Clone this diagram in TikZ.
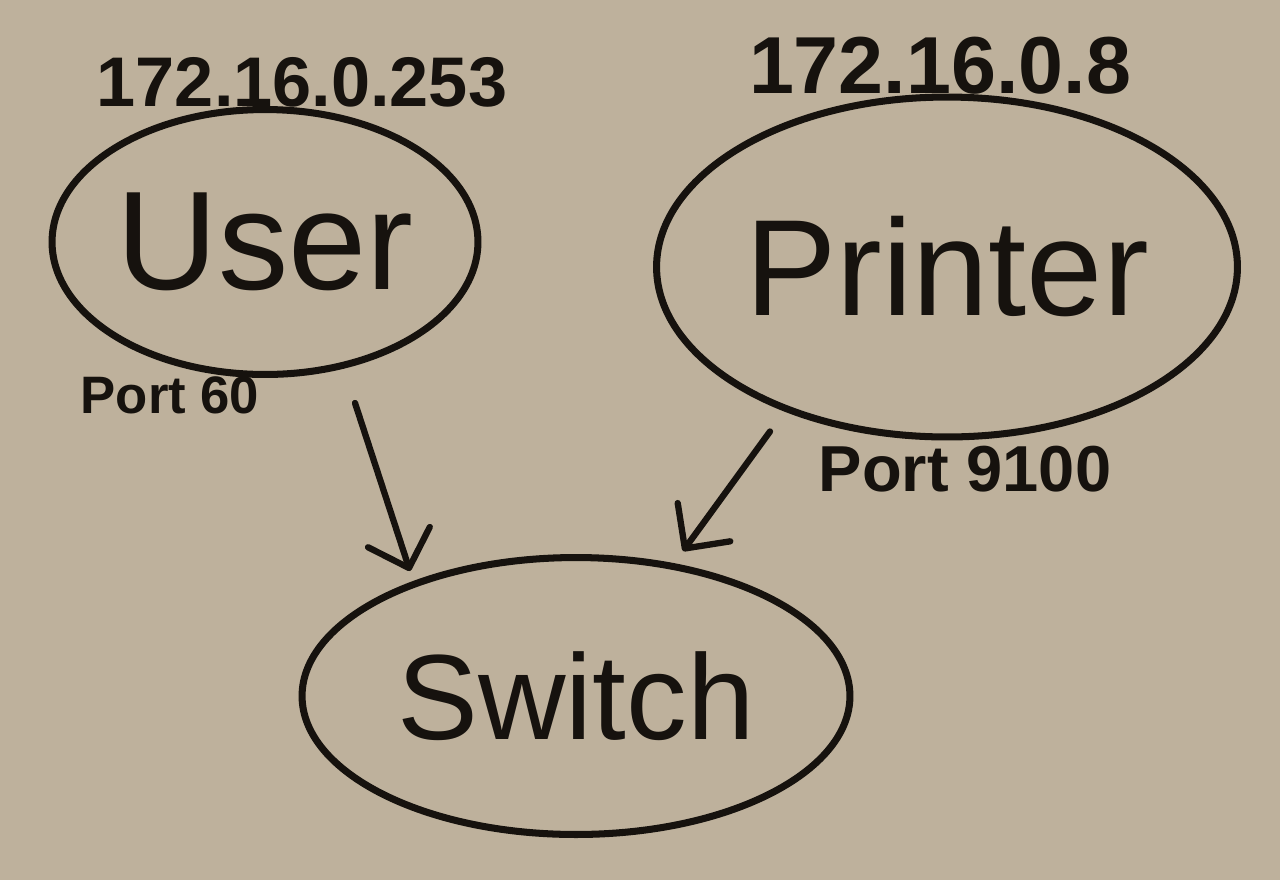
\documentclass[tikz,border=0pt]{standalone}
\usepackage{fontspec}
\setmainfont{Liberation Sans}
\usepackage{tikz}
\usetikzlibrary{arrows.meta, positioning, calc, shapes.geometric}
\definecolor{paper}{RGB}{190,177,156}
\definecolor{ink}{RGB}{22,18,14}

\begin{document}
\begin{tikzpicture}[
  x=0.02cm, y=-0.02cm,
  bubble/.style={ellipse, draw=ink, line width=4pt, inner sep=0pt, text=ink},
  tag/.style={text=ink, inner sep=1pt},
  link/.style={draw=ink, line width=3.6pt, line cap=round, -{Straight Barb[length=0.65cm, width=1.3cm, round]}}
]
\fill[paper] (0,0) rectangle (1280,880);
\useasboundingbox (0,0) rectangle (1280,880);
% hosts
\node[bubble, minimum width=8.52cm, minimum height=5.3cm, font=\fontsize{80}{90}\selectfont] (user) at (265,242) {User};
\node[bubble, minimum width=11.62cm, minimum height=6.8cm, font=\fontsize{78}{90}\selectfont] (printer) at (947,267) {Printer};
\node[bubble, minimum width=10.96cm, minimum height=5.54cm, font=\fontsize{69}{80}\selectfont] (switch) at (576,696) {Switch};
% addresses and ports
\node[tag, font=\bfseries\fontsize{40}{46}\selectfont] (userip) at (302,82) {172.16.0.253};
\node[tag, font=\bfseries\fontsize{46}{52}\selectfont] (printerip) at (940,66) {172.16.0.8};
\node[tag, font=\bfseries\fontsize{30}{36}\selectfont] (userport) at (170,395) {Port 60};
\node[tag, font=\bfseries\fontsize{37}{42}\selectfont, below=2pt of printer, xshift=0.36cm] (printerport) {Port 9100};
% links
\draw[link] ($(user.south)+(90,25)$) -- ($(switch.north)+(-166,17)$);
\draw[link] ($(printer.south)+(-177,-9)$) -- ($(switch.north)+(107,-3)$);
\end{tikzpicture}
\end{document}
